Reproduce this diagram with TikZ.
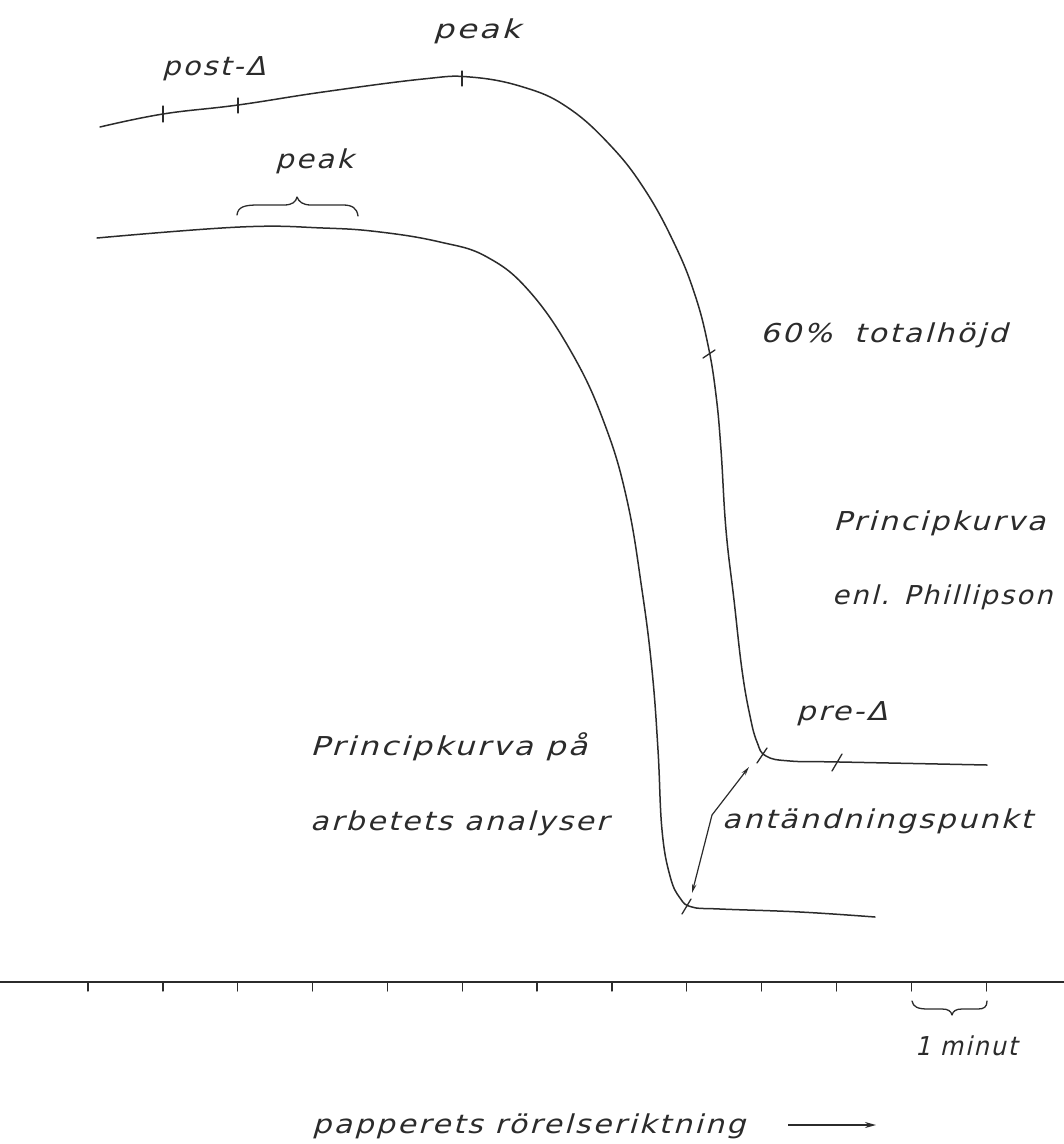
\documentclass[tikz,border=0pt]{standalone}
\usepackage{fontspec}
\usepackage{graphicx}
\usetikzlibrary{arrows.meta}
\newfontfamily\handfont{DejaVu Sans}[FakeSlant=0.25,LetterSpace=8]
\definecolor{ink}{HTML}{2B2B2B}
\newcommand\fitw[2]{\resizebox{#1pt}{\height}{#2}}
\begin{document}
\begin{tikzpicture}[x=1pt,y=-1pt,
  lbl/.style={font=\handfont\fontsize{26}{26}\selectfont, inner sep=0pt, anchor=base west, text=ink},
  curve/.style={line width=1.5pt, draw=ink, line cap=round, line join=round},
  tickmark/.style={line width=1.3pt, draw=ink, line cap=round},
]
\useasboundingbox (0,0) rectangle (1064,1144);

% upper curve (Phillipson)
\draw[curve] plot[smooth,tension=0.7] coordinates {(100,127) (163,114) (238,105) (323,92) (423,79) (470,77) (523,87) (567,107) (610,145) (645,190) (675,245) (695,295) (708,345) (716,395) (721,450) (726,530) (734,600) (742,670) (750,716) (757,742) (766,756) (790,761) (840,762) (987,765)};
% lower curve (own analyses)
\draw[curve] plot[smooth,tension=0.7] coordinates {(97,238) (240,227) (323,228) (380,232) (440,242) (487,257) (530,292) (573,355) (605,425) (627,500) (642,590) (652,670) (658,750) (662,830) (670,876) (680,898) (692,907) (720,909) (800,912) (875,917)};

% tick marks on curves
\draw[tickmark] (163,106) -- (163,122);
\draw[tickmark] (238,98) -- (238,113);
\draw[tickmark] (462,71) -- (462,86);
\draw[tickmark] (703,358) -- (715,350);
\draw[tickmark] (757,763) -- (767,748);
\draw[tickmark] (832,771) -- (842,754);
\draw[tickmark] (682,914) -- (691,899);

% brace over lower peak
\draw[curve, line width=1.3pt] (237,215) .. controls (238,207) and (244,205) .. (258,205) -- (284,205) .. controls (292,205) and (296,202) .. (297,197) .. controls (299,202) and (303,205) .. (311,205) -- (343,205) .. controls (352,205) and (357,208) .. (358,216);

% ignition-point double arrow
\coordinate (aL) at (692,893);
\coordinate (aK) at (712,815);
\coordinate (aU) at (749,767);
\draw[ink, line width=1.2pt, {Stealth[length=9pt,width=4.5pt]}-{Stealth[length=9pt,width=4.5pt]}] (aL) -- (aK) -- (aU);

% time axis
\coordinate (axL) at (0,982);
\coordinate (axR) at (1064,982);
\draw[ink, line width=1.4pt] (axL) -- (axR);
\foreach \k in {0,...,12} {
  \draw[tickmark] ({88+74.85*\k},982) -- ({88+74.85*\k},991);
}
% one-minute brace
\draw[curve, line width=1.3pt] (912,1001) .. controls (913,1007) and (918,1009) .. (928,1009) -- (942,1009) .. controls (948,1009) and (951,1011) .. (952,1015) .. controls (953,1011) and (956,1009) .. (962,1009) -- (978,1009) .. controls (984,1009) and (987,1007) .. (987,1001);

% labels
\node[lbl] (peakA) at (433,38) {\fitw{87}{peak}};
\node[lbl] (post) at (162,75) {\fitw{103}{post-Δ}};
\node[lbl] (peakB) at (275,168) {\fitw{78}{peak}};
\node[lbl] (sixty) at (760,342) {\fitw{247}{60\%\,\, totalhöjd}};
\node[lbl] (pk1) at (833,530) {\fitw{212}{Principkurva}};
\node[lbl] (pk2) at (832,604) {\fitw{220}{enl. Phillipson}};
\node[lbl] (pre) at (796,720) {\fitw{91}{pre-Δ}};
\node[lbl] (pa1) at (310,755) {\fitw{277}{Principkurva på}};
\node[lbl] (pa2) at (310,830) {\fitw{298}{arbetets analyser}};
\node[lbl] (ant) at (722,828) {\fitw{310}{antändningspunkt}};
\node[lbl] (minut) at (915,1055) {\fitw{102}{1 minut}};
\node[lbl] (dir) at (312,1133) {\fitw{433}{papperets rörelseriktning}};
\coordinate (dirA) at (788,1125);
\coordinate (dirB) at (876,1125);
\draw[ink, line width=1.5pt, -{Stealth[length=11pt,width=6pt]}] (dirA) -- (dirB);
\end{tikzpicture}
\end{document}
